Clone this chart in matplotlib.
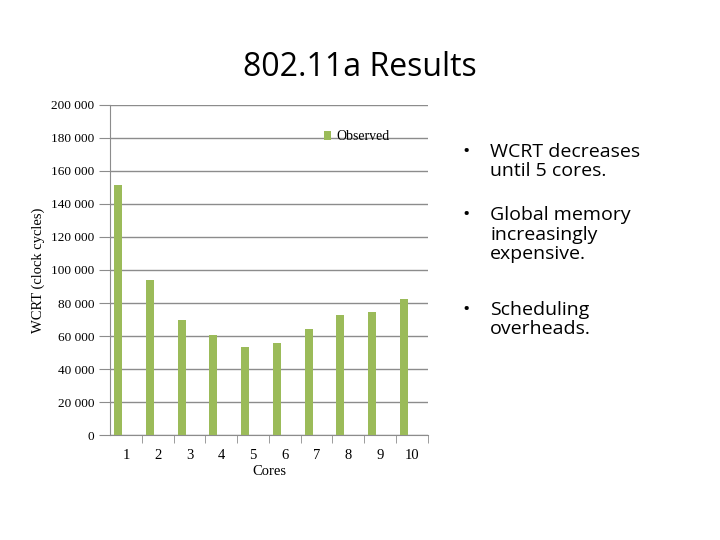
import matplotlib as mpl

mpl.use("Agg")
import matplotlib.pyplot as plt
import numpy as np

cores = [1, 2, 3, 4, 5, 6, 7, 8, 9, 10]
observed = [151500, 94000, 69700, 60600, 53300, 55800, 64200, 72700, 74500, 82400]
y_ticks = [0, 20000, 40000, 60000, 80000, 100000, 120000, 140000, 160000, 180000, 200000]
bullets = [
    "WCRT decreases\nuntil 5 cores.",
    "Global memory\nincreasingly\nexpensive.",
    "Scheduling\noverheads.",
]

GREEN = "#9BBB59"
GRID = "#8c8c8c"
SERIF = "Liberation Serif"

fig = plt.figure(figsize=(7.2, 5.4), dpi=100)
ax = fig.add_axes([0.153, 0.194, 0.441, 0.612])

x = np.arange(len(cores))
ax.bar(x - 0.25, observed, width=0.25, color=GREEN, label="Observed", zorder=3)

ax.set_xlim(-0.5, len(cores) - 0.5)
ax.set_ylim(0, 200000)
ax.set_yticks(y_ticks)
ax.set_yticklabels([f"{v:,}".replace(",", " ") for v in y_ticks], family=SERIF, fontsize=9.5)
ax.set_xticks(x)
ax.set_xticklabels([str(c) for c in cores], family=SERIF, fontsize=10.5)
ax.tick_params(axis="x", length=0, pad=10)
ax.set_xticks(x + 0.5, minor=True)
ax.tick_params(axis="x", which="minor", length=6, color=GRID)
ax.tick_params(axis="y", length=8, color=GRID, direction="out")
ax.grid(axis="y", color=GRID, linewidth=1, zorder=0)
for s in ["top", "right"]:
    ax.spines[s].set_visible(False)
ax.spines["left"].set_color(GRID)
ax.spines["bottom"].set_color(GRID)

ax.set_xlabel("Cores", family=SERIF, fontsize=10.5, labelpad=2)
ax.set_ylabel("WCRT (clock cycles)", family=SERIF, fontsize=10.5, labelpad=4)
leg = ax.legend(loc="upper right", bbox_to_anchor=(0.92, 0.96), frameon=False,
                prop={"family": SERIF, "size": 10}, handlelength=0.5, handletextpad=0.4)

fig.text(0.5, 0.875, "802.11a Results", ha="center", va="center",
         family="Open Sans", fontsize=23)

ys = [0.735, 0.618, 0.443]
for b, yy in zip(bullets, ys):
    fig.text(0.642, yy, "•", family="Open Sans", fontsize=14, va="top")
    fig.text(0.681, yy, b, family="Open Sans", fontsize=14, va="top", linespacing=1.1)

fig.savefig("out.png", dpi=100, facecolor="white")
